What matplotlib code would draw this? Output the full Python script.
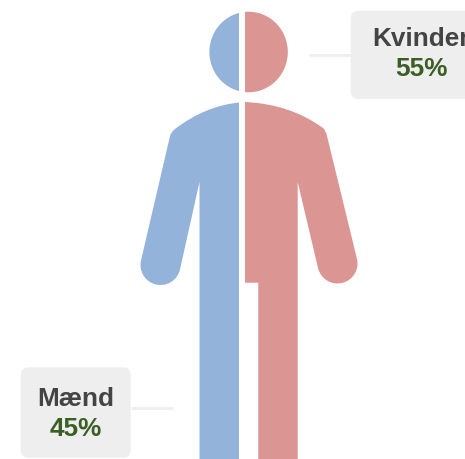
import numpy as np
import matplotlib
matplotlib.use("Agg")
import matplotlib.pyplot as plt
from matplotlib.path import Path
from matplotlib.patches import PathPatch, FancyBboxPatch, Ellipse, Rectangle

categories = ["Mænd", "Kvinder"]
shares = [45, 55]

W, H = 465, 459
BLUE, RED = "#94B3DA", "#DB9592"
BOX, INK, GREEN = "#EEEEEE", "#444444", "#3B5E24"

fig = plt.figure(figsize=(W / 100, H / 100), dpi=100, facecolor="white")
ax = fig.add_axes([0, 0, 1, 1])
ax.set_xlim(0, W)
ax.set_ylim(H, 0)
ax.axis("off")

M, L, C, Z = Path.MOVETO, Path.LINETO, Path.CURVE3, Path.CLOSEPOLY
C4 = Path.CURVE4


def arm_end(centre, radius, start_dir, side):
    """Round cap of an arm: outer tangent point, around, inner tangent point."""
    c = np.array(centre, float)
    d = np.array(start_dir, float)
    d /= np.linalg.norm(d)
    n = side * np.array([d[1], -d[0]])
    k = 0.5523 * radius
    outer, tip, inner = c + radius * n, c + radius * d, c - radius * n
    pts = [outer, outer + k * d, tip + k * n, tip, tip - k * n, inner + k * d, inner]
    codes = [L, C4, C4, C4, C4, C4, C4]
    return [(tuple(p), code) for p, code in zip(pts, codes)]


# Pictogram outline, pixel coordinates of the reference
left_body = [
    ((239, 102.5), M),
    ((205, 106), C), ((175, 129), C),
    ((171, 132), C), ((170, 136), C),
    *arm_end((160.5, 265), 20, (-29, 124), -1),
    ((199.5, 182), L),
    ((199.5, 459), L),
    ((239, 459), L),
    ((239, 102.5), L),
    ((239, 102.5), Z),
]
right_body = [
    ((245, 102), M),
    ((290, 104), C), ((323, 128), C),
    ((326, 131), C), ((327, 136), C),
    *arm_end((337.5, 263.5), 20, (30, 122), 1),
    ((297.7, 182), L),
    ((297.7, 459), L),
    ((258.3, 459), L),
    ((258.3, 282.7), L),
    ((245, 282.7), L),
    ((245, 102), L),
    ((245, 102), Z),
]
for outline, colour in [(left_body, BLUE), (right_body, RED)]:
    verts, codes = zip(*outline)
    ax.add_patch(PathPatch(Path(verts, codes), fc=colour, ec="none", lw=0))

# Split head
for colour, clip_x, clip_w in [(BLUE, 200, 39), (RED, 245, 50)]:
    head = Ellipse((248.6, 52), 78.4, 80.6, fc=colour, ec="none")
    ax.add_patch(head)
    head.set_clip_path(Rectangle((clip_x, 0), clip_w, 110, transform=ax.transData))

# Connectors
ax.plot([131, 173], [407.5, 407.5], color=BOX, lw=2, solid_capstyle="butt")
ax.plot([308.5, 351], [54.7, 54.7], color=BOX, lw=2, solid_capstyle="butt")

# Label boxes
for x0, y0, w, h in [(20.7, 367.3, 110, 90.4), (350.7, 10.7, 160, 88.3)]:
    ax.add_patch(FancyBboxPatch((x0 + 8, y0 + 8), w - 16, h - 16,
                                boxstyle="round,pad=8,rounding_size=8",
                                fc=BOX, ec="none", mutation_aspect=1))

font = ["Liberation Sans", "DejaVu Sans"]
for name, share, cx, y1, y2 in [
    (categories[0], shares[0], 75.5, 399, 428.5),
    (categories[1], shares[1], 421, 39.5, 68.5),
]:
    ax.text(cx, y1, name, ha="center", va="center", fontsize=18.8,
            fontweight="bold", color=INK, family=font)
    ax.text(cx, y2, f"{share}%", ha="center", va="center", fontsize=18.8,
            fontweight="bold", color=GREEN, family=font)

fig.savefig("out.png", dpi=100, facecolor="white")
